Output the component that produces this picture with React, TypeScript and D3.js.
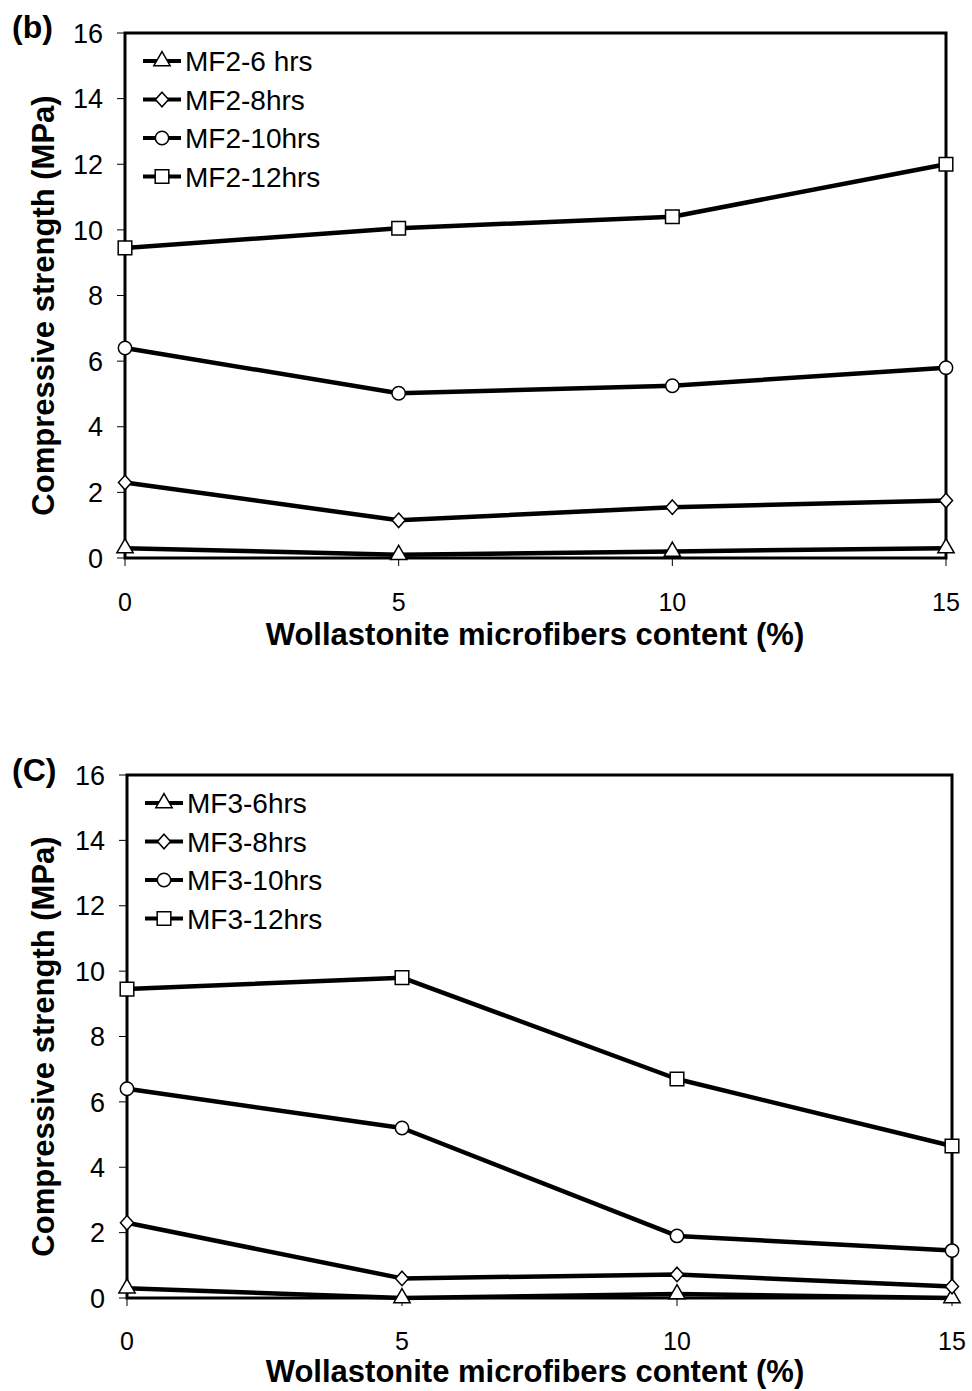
import React from "react";
import * as d3 from "d3";

const xValues = [0, 5, 10, 15];
const xTicks = [0, 5, 10, 15];
const yTicks = [0, 2, 4, 6, 8, 10, 12, 14, 16];

const mf2Names = ["MF2-6 hrs", "MF2-8hrs", "MF2-10hrs", "MF2-12hrs"];
const mf2_6 = [0.3, 0.1, 0.2, 0.3];
const mf2_8 = [2.3, 1.15, 1.55, 1.75];
const mf2_10 = [6.4, 5.02, 5.25, 5.8];
const mf2_12 = [9.45, 10.05, 10.4, 12.0];

const mf3Names = ["MF3-6hrs", "MF3-8hrs", "MF3-10hrs", "MF3-12hrs"];
const mf3_6 = [0.3, 0.0, 0.12, 0.0];
const mf3_8 = [2.3, 0.6, 0.72, 0.35];
const mf3_10 = [6.4, 5.2, 1.9, 1.45];
const mf3_12 = [9.45, 9.8, 6.7, 4.65];

const squareDiamond = {
  draw(context: any, size: number) {
    const h = Math.sqrt(size) / 1.9;
    const w = h * 0.9;
    context.moveTo(0, -h);
    context.lineTo(w, 0);
    context.lineTo(0, h);
    context.lineTo(-w, 0);
    context.closePath();
  },
};

const symbols: any[] = [d3.symbolTriangle, squareDiamond, d3.symbolCircle, d3.symbolSquare];
const symSizes = [115, 190, 140, 185];

const FONT = "Liberation Sans, Arial, sans-serif";

type PanelProps = {
  label: string;
  names: string[];
  series: number[][];
  left: number;
  right: number;
  top: number;
  bottom: number;
  tickLabelY: number;
  titleY: number;
  labelY: number;
};

function Panel(p: PanelProps) {
  const x = d3.scaleLinear().domain([0, 15]).range([p.left, p.right]);
  const y = d3.scaleLinear().domain([0, 16]).range([p.bottom, p.top]);
  const line = d3
    .line<number>()
    .x((_, i) => x(xValues[i]))
    .y((d) => y(d));
  const legX = p.left + 18;
  const legY0 = p.top + 28;
  const legStep = 38.5;
  return (
    <g>
      <text x={12} y={p.labelY} fontFamily={FONT} fontWeight="bold" fontSize={32}>
        {p.label}
      </text>
      {yTicks.map((t) => (
        <g key={"y" + t}>
          <line x1={p.left - 8} x2={p.left} y1={y(t)} y2={y(t)} stroke="#000" strokeWidth={1} />
          <text x={p.left - 22} y={y(t)} dy="0.36em" textAnchor="end" fontFamily={FONT} fontSize={27}>
            {t}
          </text>
        </g>
      ))}
      {xTicks.map((t) => (
        <g key={"x" + t}>
          <line x1={x(t)} x2={x(t)} y1={p.bottom} y2={p.bottom + 8} stroke="#000" strokeWidth={1} />
          <text x={x(t)} y={p.tickLabelY} textAnchor="middle" fontFamily={FONT} fontSize={25}>
            {t}
          </text>
        </g>
      ))}
      <rect
        x={p.left}
        y={p.top}
        width={p.right - p.left}
        height={p.bottom - p.top}
        fill="none"
        stroke="#000"
        strokeWidth={3}
      />
      {p.series.map((s, i) => (
        <path key={"l" + i} d={line(s) || ""} fill="none" stroke="#000" strokeWidth={4.5} strokeLinejoin="round" />
      ))}
      {p.series.map((s, i) =>
        s.map((v, j) => (
          <path
            key={"m" + i + "-" + j}
            d={d3.symbol().type(symbols[i]).size(symSizes[i])() || ""}
            transform={`translate(${x(xValues[j])},${y(v)})`}
            fill="#fff"
            stroke="#000"
            strokeWidth={1.5}
          />
        ))
      )}
      {p.names.map((n, i) => {
        const ly = legY0 + i * legStep;
        return (
          <g key={"lg" + i}>
            <line x1={legX} x2={legX + 38} y1={ly} y2={ly} stroke="#000" strokeWidth={4} />
            <path
              d={d3.symbol().type(symbols[i]).size(symSizes[i])() || ""}
              transform={`translate(${legX + 19},${ly})`}
              fill="#fff"
              stroke="#000"
              strokeWidth={1.5}
            />
            <text x={legX + 42} y={ly} dy="0.36em" fontFamily={FONT} fontSize={28}>
              {n}
            </text>
          </g>
        );
      })}
      <text
        x={535}
        y={p.titleY}
        textAnchor="middle"
        fontFamily={FONT}
        fontWeight="bold"
        fontSize={31}
      >
        Wollastonite microfibers content (%)
      </text>
      <text
        transform={`translate(54,${(p.top + p.bottom) / 2 + 10}) rotate(-90)`}
        textAnchor="middle"
        fontFamily={FONT}
        fontWeight="bold"
        fontSize={31}
      >
        Compressive strength (MPa)
      </text>
    </g>
  );
}

export default function App() {
  return (
    <svg width={972} height={1391} style={{ display: "block", position: "absolute", left: 0, top: 0 }}>
      <rect width={972} height={1391} fill="#fff" />
      <Panel
        label="(b)"
        names={mf2Names}
        series={[mf2_6, mf2_8, mf2_10, mf2_12]}
        left={125}
        right={946}
        top={33}
        bottom={558}
        tickLabelY={611}
        titleY={645}
        labelY={38}
      />
      <Panel
        label="(C)"
        names={mf3Names}
        series={[mf3_6, mf3_8, mf3_10, mf3_12]}
        left={127}
        right={952}
        top={775}
        bottom={1298}
        tickLabelY={1350}
        titleY={1382}
        labelY={781}
      />
    </svg>
  );
}
